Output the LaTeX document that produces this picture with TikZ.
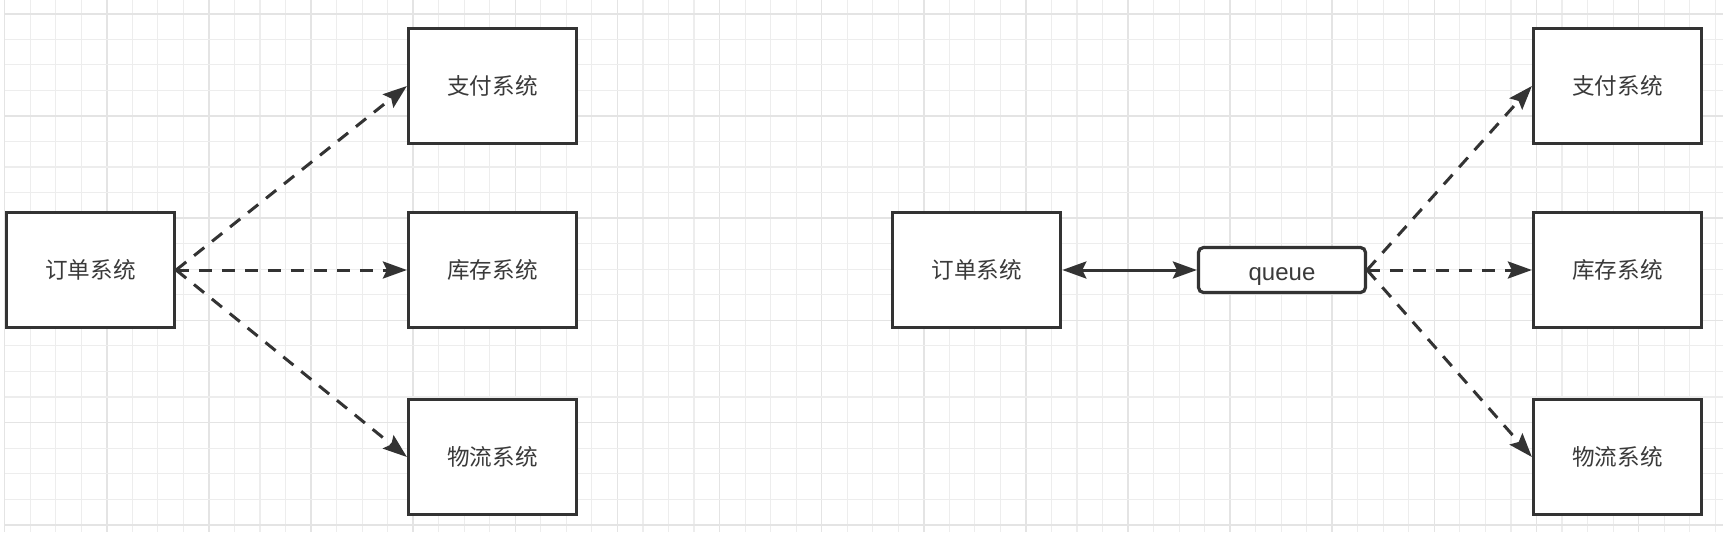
\documentclass[tikz,border=0pt]{standalone}
\usepackage{fontspec}
\setmainfont{Liberation Sans}
\newfontfamily\cjk{Noto Sans CJK SC}
\usetikzlibrary{arrows.meta}
\definecolor{ink}{HTML}{333333}
\definecolor{txt}{HTML}{3A3A3A}
\definecolor{gridminor}{HTML}{EDEDED}
\definecolor{gridmajor}{HTML}{E4E4E4}
\begin{document}
\begin{tikzpicture}[x=0.5pt,y=-0.5pt,
  sysbox/.style={draw=ink, line width=1.6pt, fill=white, minimum width=84pt, minimum height=57.5pt, inner sep=0pt, font=\cjk\fontsize{11.3pt}{13pt}\selectfont, text=txt},
  qbox/.style={draw=ink, line width=1.6pt, fill=white, rounded corners=2.5pt, minimum width=83.5pt, minimum height=22.5pt, inner sep=0pt, text height=8.6pt, text depth=2.4pt, font=\fontsize{12pt}{14pt}\selectfont, text=txt},
  dashlink/.style={draw=ink, line width=1.5pt, dash pattern=on 6.5pt off 5pt, -{Stealth[length=12pt,width=8.5pt,inset=2pt]}},
  solidlink/.style={draw=ink, line width=1.5pt, {Stealth[length=12pt,width=8.5pt,inset=2pt]}-{Stealth[length=12pt,width=8.5pt,inset=2pt]}}
]
\useasboundingbox (0,0) rectangle (1736,542);
\fill[white] (0,0) rectangle (1736,542);
% grid
\foreach \k in {0,...,67}{
  \pgfmathsetmacro{\xx}{4.7+25.53*\k}
  \pgfmathtruncatemacro{\m}{mod(\k,4)}
  \ifnum\m=0
    \draw[gridmajor,line width=0.8pt] (\xx,0) -- (\xx,532);
  \else
    \draw[gridminor,line width=0.55pt] (\xx,0) -- (\xx,532);
  \fi
}
\foreach \k in {0,...,20}{
  \pgfmathsetmacro{\yy}{13.7+25.55*\k}
  \pgfmathtruncatemacro{\m}{mod(\k,4)}
  \ifnum\m=0
    \draw[gridmajor,line width=0.8pt] (4.7,\yy) -- (1722.7,\yy);
  \else
    \draw[gridminor,line width=0.55pt] (4.7,\yy) -- (1722.7,\yy);
  \fi
}
% left diagram
\node[sysbox] (o1) at (90.5,270) {订单系统};
\node[sysbox] (p1) at (492.5,86) {支付系统};
\node[sysbox] (k1) at (492.5,270) {库存系统};
\node[sysbox] (w1) at (492.5,457) {物流系统};
\draw[dashlink] (o1.east) -- (p1.west);
\draw[dashlink] (o1.east) -- (k1.west);
\draw[dashlink] (o1.east) -- (w1.west);
% right diagram
\node[sysbox] (o2) at (976.75,270) {订单系统};
\node[qbox] (q) at (1282,270) {\raisebox{-2.2pt}{queue}};
\node[sysbox] (p2) at (1617.5,86) {支付系统};
\node[sysbox] (k2) at (1617.5,270) {库存系统};
\node[sysbox] (w2) at (1617.5,457) {物流系统};
\draw[solidlink] (o2.east) -- (q.west);
\draw[dashlink] (q.east) -- (p2.west);
\draw[dashlink] (q.east) -- (k2.west);
\draw[dashlink] (q.east) -- (w2.west);
\end{tikzpicture}
\end{document}
